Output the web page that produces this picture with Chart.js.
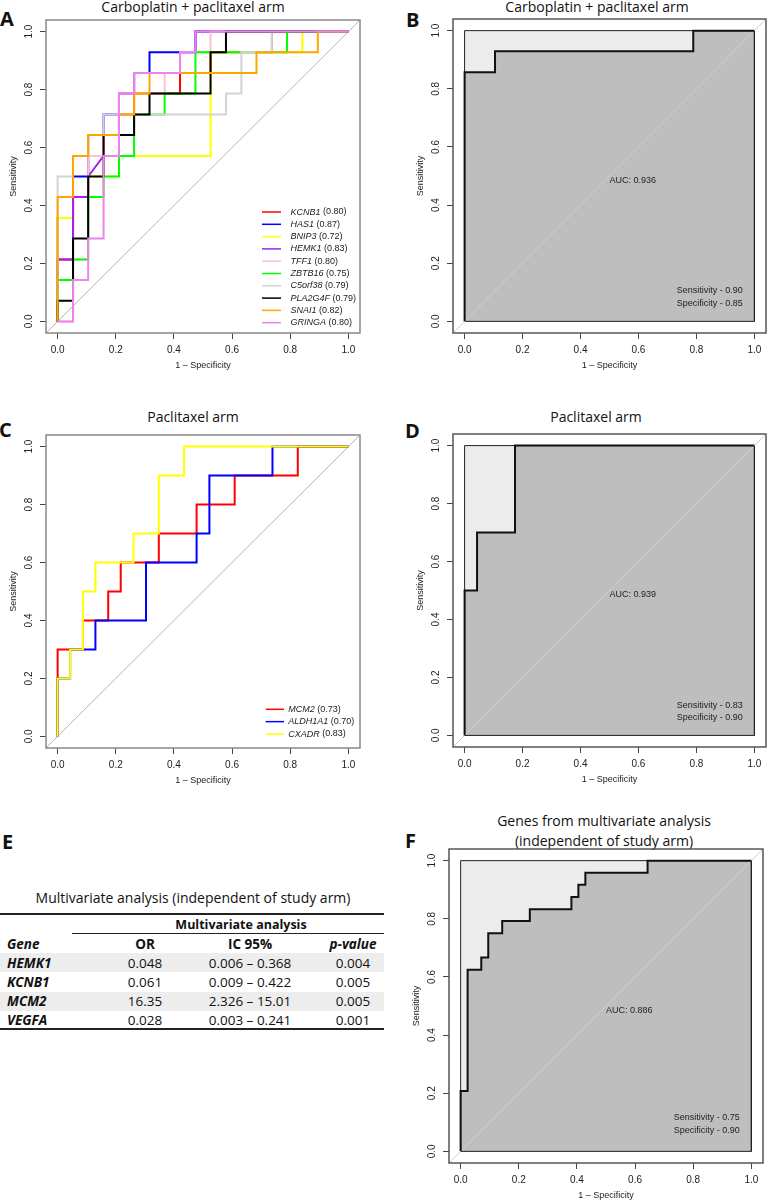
<!DOCTYPE html>
<html>
<head>
<meta charset="utf-8">
<script src="https://cdn.jsdelivr.net/npm/chart.js@4.4.1/dist/chart.umd.min.js"></script>
<style>
  body { margin: 0; width: 768px; height: 1201px; overflow: hidden; background: #fff; position: relative; font-family: "Open Sans", sans-serif; color: #111; }
  canvas { position: absolute; }
  .title { position: absolute; transform: translate(-50%, -50%); white-space: nowrap; font-size: 14px; line-height: 1.2; }
  .letter { position: absolute; font-weight: 700; font-size: 20px; line-height: 1; }
  .cell { position: absolute; transform: translate(-50%, -50%); white-space: nowrap; font-size: 13.5px; line-height: 1.2; }
  .left { transform: translate(0, -50%); }
  .b { font-weight: 700; }
  .bi { font-weight: 700; font-style: italic; }
  .rule { position: absolute; background: #222; }
  .shade { position: absolute; left: 0; width: 384px; background: #ededed; }
</style>
</head>
<body>
<div class="letter" style="left:0px;top:9px">A</div>
<div class="letter" style="left:406px;top:10px">B</div>
<div class="letter" style="left:-1px;top:420px">C</div>
<div class="letter" style="left:405px;top:421px">D</div>
<div class="letter" style="left:2px;top:832px">E</div>
<div class="letter" style="left:405px;top:831px">F</div>

<div class="title" style="left:193px;top:7px">Carboplatin + paclitaxel arm</div>
<div class="title" style="left:597px;top:7px">Carboplatin + paclitaxel arm</div>
<div class="title" style="left:193px;top:417px">Paclitaxel arm</div>
<div class="title" style="left:596px;top:417px">Paclitaxel arm</div>
<div class="title" style="left:604px;top:821px">Genes from multivariate analysis</div>
<div class="title" style="left:604px;top:841px">(independent of study arm)</div>

<div id="tabela"></div>

<canvas id="rocA"></canvas>
<canvas id="rocB"></canvas>
<canvas id="rocC"></canvas>
<canvas id="rocD"></canvas>
<canvas id="rocF"></canvas>

<script>
// Eixos
const axisTicks = [0, 0.2, 0.4, 0.6, 0.8, 1.0];

// Painel A - genes e AUC
const genesA = ["KCNB1", "HAS1", "BNIP3", "HEMK1", "TFF1", "ZBTB16", "C5orf38", "PLA2G4F", "SNAI1", "GRINGA"];
const aucA = ["(0.80)", "(0.87)", "(0.72)", "(0.83)", "(0.80)", "(0.75)", "(0.79)", "(0.79)", "(0.82)", "(0.80)"];
const coresA = ["#ff0000", "#0000ff", "#ffff00", "#a020f0", "#ffc0cb", "#00ff00", "#d3d3d3", "#000000", "#ffa500", "#ee82ee"];

const kcnb1X = [0, 0, .053, .053, .105, .105, .158, .158, .211, .211, .263, .263, .421, .421, .526, .526, .737, .737, 1];
const kcnb1Y = [0, .214, .214, .429, .429, .571, .571, .643, .643, .714, .714, .786, .786, .857, .857, .929, .929, 1, 1];
const has1X = [0, 0, .053, .053, .105, .105, .158, .158, .211, .211, .263, .263, .316, .316, .474, .474, 1];
const has1Y = [0, .357, .357, .5, .5, .643, .643, .714, .714, .786, .786, .857, .857, .929, .929, 1, 1];
const bnip3X = [0, 0, .053, .053, .105, .105, .211, .211, .526, .526, .842, .842, 1];
const bnip3Y = [0, .357, .357, .429, .429, .5, .5, .571, .571, .929, .929, 1, 1];
const hemk1X = [0, 0, .053, .053, .105, .105, .158, .211, .211, .263, .263, .421, .421, .474, .474, 1];
const hemk1Y = [0, .214, .214, .429, .429, .5, .571, .571, .786, .786, .857, .857, .929, .929, 1, 1];
const tff1X = [0, .053, .053, .105, .105, .158, .158, .211, .211, .368, .368, .421, .421, .526, .526, 1];
const tff1Y = [0, 0, .214, .214, .571, .571, .643, .643, .786, .786, .857, .857, .929, .929, 1, 1];
const zbtb16X = [0, 0, .053, .053, .105, .105, .158, .158, .211, .211, .263, .263, .368, .368, .474, .474, .789, .789, 1];
const zbtb16Y = [0, .143, .143, .214, .214, .429, .429, .5, .5, .571, .571, .714, .714, .786, .786, .929, .929, 1, 1];
const c5orf38X = [0, 0, .053, .053, .105, .105, .158, .158, .579, .579, .632, .632, .737, .737, 1];
const c5orf38Y = [0, .5, .5, .571, .571, .643, .643, .714, .714, .786, .786, .929, .929, 1, 1];
const pla2g4fX = [0, 0, .053, .053, .105, .105, .158, .158, .263, .263, .316, .316, .526, .526, .579, .579, 1];
const pla2g4fY = [0, .071, .071, .286, .286, .5, .5, .643, .643, .714, .714, .786, .786, .929, .929, 1, 1];
const snai1X = [0, 0, .053, .053, .105, .105, .211, .211, .263, .263, .316, .316, .684, .684, .895, .895, 1];
const snai1Y = [0, .429, .429, .571, .571, .643, .643, .714, .714, .786, .786, .857, .857, .929, .929, 1, 1];
const gringaX = [0, .053, .053, .105, .105, .158, .158, .211, .211, .263, .263, .421, .421, .474, .474, 1];
const gringaY = [0, 0, .143, .143, .286, .286, .571, .571, .786, .786, .857, .857, .929, .929, 1, 1];

// Painel B
const curvaBX = [0, 0, .105, .105, .789, .789, 1];
const curvaBY = [0, .857, .857, .929, .929, 1, 1];
const textosB = ["AUC: 0.936", "Sensitivity - 0.90", "Specificity - 0.85"];

// Painel C
const genesC = ["MCM2", "ALDH1A1", "CXADR"];
const aucC = ["(0.73)", "(0.70)", "(0.83)"];
const coresC = ["#ff0000", "#0000ff", "#ffff00"];
const mcm2X = [0, 0, .087, .087, .174, .174, .217, .217, .348, .348, .478, .478, .609, .609, .826, .826, 1];
const mcm2Y = [0, .3, .3, .4, .4, .5, .5, .6, .6, .7, .7, .8, .8, .9, .9, 1, 1];
const aldh1a1X = [0, 0, .043, .043, .13, .13, .304, .304, .478, .478, .522, .522, .739, .739, 1];
const aldh1a1Y = [0, .2, .2, .3, .3, .4, .4, .6, .6, .7, .7, .9, .9, 1, 1];
const cxadrX = [0, 0, .043, .043, .087, .087, .13, .13, .261, .261, .348, .348, .435, .435, 1];
const cxadrY = [0, .2, .2, .3, .3, .5, .5, .6, .6, .7, .7, .9, .9, 1, 1];

// Painel D
const curvaDX = [0, 0, .043, .043, .174, .174, 1];
const curvaDY = [0, .5, .5, .7, .7, 1, 1];
const textosD = ["AUC: 0.939", "Sensitivity - 0.83", "Specificity - 0.90"];

// Painel F
const curvaFX = [0, 0, .024, .024, .071, .071, .095, .095, .143, .143, .238, .238, .381, .381, .405, .405, .429, .429, .643, .643, 1];
const curvaFY = [0, .208, .208, .625, .625, .667, .667, .75, .75, .792, .792, .833, .833, .875, .875, .917, .917, .958, .958, 1, 1];
const textosF = ["AUC: 0.886", "Sensitivity - 0.75", "Specificity - 0.90"];

// Tabela E
const tabGenes = ["HEMK1", "KCNB1", "MCM2", "VEGFA"];
const tabOR = ["0.048", "0.061", "16.35", "0.028"];
const tabIC = ["0.006 \u2013 0.368", "0.009 \u2013 0.422", "2.326 \u2013 15.01", "0.003 \u2013 0.241"];
const tabP = ["0.004", "0.005", "0.005", "0.001"];

const fonteR = '"Liberation Sans", Arial, sans-serif';

function pontos(xs, ys) {
  return xs.map((x, i) => ({ x: x, y: ys[i] }));
}

// Plugin: caixa, rótulos dos eixos, textos e legenda no estilo do R
const rocDecor = {
  id: 'rocDecor',
  afterDraw(chart, args, opts) {
    const { ctx, chartArea: a, scales: { x, y } } = chart;
    ctx.save();
    ctx.strokeStyle = opts.boxColor || '#777';
    ctx.lineWidth = 1.5;
    ctx.strokeRect(a.left, a.top, a.right - a.left, a.bottom - a.top);

    ctx.fillStyle = '#222';
    ctx.font = '10px ' + fonteR;
    ctx.textAlign = 'center';
    ctx.textBaseline = 'middle';
    x.ticks.forEach(t => ctx.fillText(t.value.toFixed(1), x.getPixelForValue(t.value), a.bottom + 17));
    y.ticks.forEach(t => {
      ctx.save();
      ctx.translate(a.left - 17, y.getPixelForValue(t.value));
      ctx.rotate(-Math.PI / 2);
      ctx.fillText(t.value.toFixed(1), 0, 0);
      ctx.restore();
    });

    ctx.font = '9px ' + fonteR;
    ctx.fillText('1 \u2013 Specificity', x.getPixelForValue(0.5), a.bottom + 33);
    ctx.save();
    ctx.translate(a.left - 32, y.getPixelForValue(0.5));
    ctx.rotate(-Math.PI / 2);
    ctx.fillText('Sensitivity', 0, 0);
    ctx.restore();

    if (opts.textos) {
      ctx.textAlign = 'left';
      ctx.textBaseline = 'top';
      ctx.fillText(opts.textos[0], x.getPixelForValue(0.5), y.getPixelForValue(0.5));
      ctx.textAlign = 'right';
      ctx.textBaseline = 'middle';
      ctx.fillText(opts.textos[1], x.getPixelForValue(0.96), y.getPixelForValue(opts.sensY));
      ctx.fillText(opts.textos[2], x.getPixelForValue(0.96), y.getPixelForValue(opts.specY));
    }

    const lg = opts.legenda;
    if (lg) {
      ctx.textAlign = 'left';
      ctx.textBaseline = 'middle';
      const n = lg.nomes.length;
      lg.nomes.forEach((nome, i) => {
        const py = a.bottom - lg.base - (n - 1 - i) * lg.dy;
        ctx.strokeStyle = lg.cores[i];
        ctx.lineWidth = 1.5;
        ctx.beginPath();
        ctx.moveTo(a.right - lg.l0, py);
        ctx.lineTo(a.right - lg.l1, py);
        ctx.stroke();
        ctx.font = 'italic 9px ' + fonteR;
        const tx = a.right - lg.tx;
        ctx.fillText(nome, tx, py);
        const w = ctx.measureText(nome).width;
        ctx.font = '9px ' + fonteR;
        ctx.fillText(' ' + lg.aucs[i], tx + w, py);
      });
    }
    ctx.restore();
  }
};

function diagonal(cor, ordem) {
  return {
    data: [{ x: -0.04, y: -0.04 }, { x: 1.04, y: 1.04 }],
    borderColor: cor, borderWidth: 1, pointRadius: 0, fill: false, order: ordem
  };
}

function criarRoc(id, caixa, datasets, decor) {
  const cv = document.getElementById(id);
  const w = caixa.R - caixa.L, h = caixa.B - caixa.T;
  cv.width = w + 52;
  cv.height = h + 48;
  cv.style.left = (caixa.L - 48) + 'px';
  cv.style.top = (caixa.T - 4) + 'px';
  return new Chart(cv.getContext('2d'), {
    type: 'line',
    data: { datasets: datasets },
    options: {
      responsive: false,
      animation: false,
      layout: { padding: { left: 0, top: 4, right: 4, bottom: 0 } },
      elements: { point: { radius: 0 }, line: { tension: 0 } },
      plugins: { legend: { display: false }, tooltip: { enabled: false }, rocDecor: decor },
      scales: {
        x: {
          type: 'linear', min: -0.04, max: 1.04,
          afterBuildTicks: s => { s.ticks = axisTicks.map(v => ({ value: v })); },
          afterFit: s => { s.height = 44; },
          ticks: { display: false },
          grid: { drawOnChartArea: false, drawTicks: true, tickLength: 6, color: '#444' },
          border: { display: false }
        },
        y: {
          type: 'linear', min: -0.04, max: 1.04,
          afterBuildTicks: s => { s.ticks = axisTicks.map(v => ({ value: v })); },
          afterFit: s => { s.width = 48; },
          ticks: { display: false },
          grid: { drawOnChartArea: false, drawTicks: true, tickLength: 6, color: '#444' },
          border: { display: false }
        }
      }
    },
    plugins: [rocDecor]
  });
}

// Curvas coloridas (A e C)
function curvasGenes(listas, cores) {
  return listas.map((l, i) => ({
    data: pontos(l[0], l[1]),
    borderColor: cores[i], borderWidth: 2, pointRadius: 0, fill: false,
    order: listas.length - i
  }));
}

// Curva única com área (B, D, F)
function curvaComArea(xs, ys) {
  const pts = pontos(xs, ys);
  return [
    { data: pts, borderColor: '#111', borderWidth: 2, pointRadius: 0, fill: false, order: 1 },
    diagonal('#cfcfcf', 2),
    // contorno do quadrado 0..1
    { data: [{ x: 0, y: 0 }, { x: 0, y: 1 }, { x: 1, y: 1 }, { x: 1, y: 0 }, { x: 0, y: 0 }],
      borderColor: '#222', borderWidth: 1, pointRadius: 0, fill: false, order: 3 },
    // área sob a curva
    { data: pts, borderWidth: 0, borderColor: 'rgba(0,0,0,0)', pointRadius: 0,
      fill: 'origin', backgroundColor: '#bebebe', order: 60 },
    // área máxima
    { data: [{ x: 0, y: 1 }, { x: 1, y: 1 }], borderWidth: 0, borderColor: 'rgba(0,0,0,0)', pointRadius: 0,
      fill: 'origin', backgroundColor: '#ececec', order: 70 }
  ];
}

const listasA = [[kcnb1X, kcnb1Y], [has1X, has1Y], [bnip3X, bnip3Y], [hemk1X, hemk1Y], [tff1X, tff1Y],
  [zbtb16X, zbtb16Y], [c5orf38X, c5orf38Y], [pla2g4fX, pla2g4fY], [snai1X, snai1Y], [gringaX, gringaY]];
const listasC = [[mcm2X, mcm2Y], [aldh1a1X, aldh1a1Y], [cxadrX, cxadrY]];

criarRoc('rocA', { L: 46, T: 20, R: 360, B: 333 },
  [diagonal('#b4b4b4', 50)].concat(curvasGenes(listasA, coresA)),
  { boxColor: '#888', legenda: { nomes: genesA, aucs: aucA, cores: coresA, l0: 98, l1: 79, tx: 69.5, base: 10.3, dy: 12.3 } });

criarRoc('rocB', { L: 453, T: 19, R: 766, B: 333 }, curvaComArea(curvaBX, curvaBY),
  { boxColor: '#555', textos: textosB, sensY: 0.105, specY: 0.063 });

criarRoc('rocC', { L: 46, T: 435, R: 360, B: 748 },
  [diagonal('#b4b4b4', 50)].concat(curvasGenes(listasC, coresC)),
  { boxColor: '#888', legenda: { nomes: genesC, aucs: aucC, cores: coresC, l0: 94.3, l1: 76, tx: 71.7, base: 14, dy: 12.35 } });

criarRoc('rocD', { L: 453, T: 434, R: 766, B: 747 }, curvaComArea(curvaDX, curvaDY),
  { boxColor: '#555', textos: textosD, sensY: 0.103, specY: 0.061 });

criarRoc('rocF', { L: 449, T: 849, R: 763, B: 1163 }, curvaComArea(curvaFX, curvaFY),
  { boxColor: '#555', textos: textosF, sensY: 0.115, specY: 0.073 });

// Tabela do painel E
function montarTabela() {
  const t = document.getElementById('tabela');
  let html = '';
  html += '<div class="title" style="left:193px;top:898px">Multivariate analysis (independent of study arm)</div>';
  html += '<div class="rule" style="left:0;top:913px;width:384px;height:2px"></div>';
  html += '<div class="cell b" style="left:241px;top:924px;font-size:12.5px">Multivariate analysis</div>';
  html += '<div class="rule" style="left:72px;top:932.5px;width:312px;height:1px"></div>';
  html += '<div class="cell bi left" style="left:7px;top:944px">Gene</div>';
  html += '<div class="cell b" style="left:145px;top:944px">OR</div>';
  html += '<div class="cell b" style="left:250px;top:944px">IC 95%</div>';
  html += '<div class="cell bi" style="left:353px;top:944px">p-value</div>';
  const linhasY = [962.7, 981.7, 1001, 1020];
  tabGenes.forEach((g, i) => {
    const y = linhasY[i];
    if (i % 2 === 0) html += `<div class="shade" style="top:${y - 9.5}px;height:19px"></div>`;
    html += `<div class="cell bi left" style="left:7px;top:${y}px">${g}</div>`;
    html += `<div class="cell" style="left:145px;top:${y}px">${tabOR[i]}</div>`;
    html += `<div class="cell" style="left:250px;top:${y}px">${tabIC[i]}</div>`;
    html += `<div class="cell" style="left:353px;top:${y}px">${tabP[i]}</div>`;
  });
  html += '<div class="rule" style="left:0;top:1028px;width:384px;height:1.5px"></div>';
  t.innerHTML = html;
}

montarTabela();
</script>
</body>
</html>
